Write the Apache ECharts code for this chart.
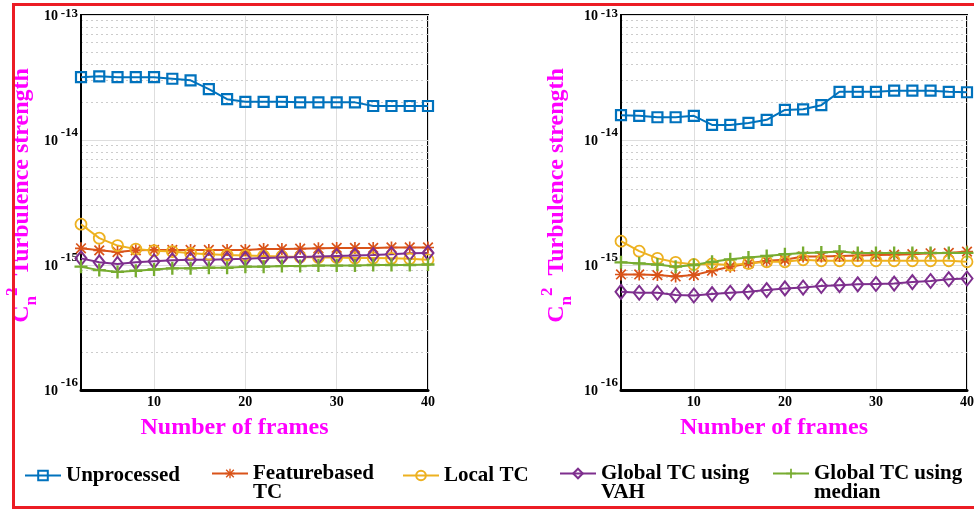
<!DOCTYPE html>
<html><head><meta charset="utf-8">
<script src="https://cdn.jsdelivr.net/npm/echarts@6/dist/echarts.min.js"></script>
<style>html,body{margin:0;padding:0;background:#fff}#c{width:974px;height:512px}</style>
</head><body><div id="c"></div>
<script>
// ---------- data ----------
const frames = [2,4,6,8,10,12,14,16,18,20,22,24,26,28,30,32,34,36,38,40];
const xTickValues = [10,20,30,40];
const seriesNames = ['Unprocessed','Featurebased TC','Local TC','Global TC using VAH','Global TC using median'];
const legendLabels = ['Unprocessed','Featurebased\nTC','Local TC','Global TC using\nVAH','Global TC using\nmedian'];

// left panel
const leftUnprocessed = [3.18e-14,3.23e-14,3.18e-14,3.18e-14,3.18e-14,3.09e-14,3.0e-14,2.55e-14,2.12e-14,2.02e-14,2.02e-14,2.02e-14,2.0e-14,2.0e-14,2.0e-14,2.0e-14,1.87e-14,1.87e-14,1.87e-14,1.87e-14];
const leftFeature = [1.36e-15,1.31e-15,1.27e-15,1.31e-15,1.32e-15,1.32e-15,1.32e-15,1.32e-15,1.32e-15,1.32e-15,1.34e-15,1.34e-15,1.35e-15,1.36e-15,1.37e-15,1.37e-15,1.37e-15,1.38e-15,1.38e-15,1.38e-15];
const leftLocal = [2.12e-15,1.64e-15,1.43e-15,1.34e-15,1.30e-15,1.28e-15,1.24e-15,1.22e-15,1.20e-15,1.19e-15,1.18e-15,1.17e-15,1.16e-15,1.15e-15,1.15e-15,1.14e-15,1.14e-15,1.13e-15,1.12e-15,1.10e-15];
const leftVAH = [1.13e-15,1.05e-15,1.02e-15,1.05e-15,1.07e-15,1.09e-15,1.10e-15,1.10e-15,1.11e-15,1.12e-15,1.14e-15,1.15e-15,1.16e-15,1.17e-15,1.18e-15,1.19e-15,1.20e-15,1.22e-15,1.24e-15,1.25e-15];
const leftMedian = [0.97e-15,0.91e-15,0.88e-15,0.90e-15,0.92e-15,0.94e-15,0.94e-15,0.95e-15,0.95e-15,0.97e-15,0.97e-15,0.98e-15,0.98e-15,0.99e-15,0.99e-15,0.99e-15,1.00e-15,1.00e-15,1.00e-15,1.01e-15];

// right panel
const rightUnprocessed = [1.58e-14,1.56e-14,1.52e-14,1.52e-14,1.56e-14,1.32e-14,1.32e-14,1.37e-14,1.45e-14,1.74e-14,1.76e-14,1.90e-14,2.43e-14,2.43e-14,2.43e-14,2.48e-14,2.48e-14,2.48e-14,2.43e-14,2.41e-14];
const rightFeature = [0.84e-15,0.84e-15,0.83e-15,0.81e-15,0.83e-15,0.90e-15,0.97e-15,1.03e-15,1.08e-15,1.10e-15,1.17e-15,1.17e-15,1.18e-15,1.19e-15,1.20e-15,1.21e-15,1.22e-15,1.24e-15,1.25e-15,1.28e-15];
const rightLocal = [1.55e-15,1.29e-15,1.13e-15,1.05e-15,1.01e-15,1.02e-15,1.00e-15,1.03e-15,1.06e-15,1.06e-15,1.10e-15,1.08e-15,1.08e-15,1.08e-15,1.08e-15,1.08e-15,1.08e-15,1.08e-15,1.08e-15,1.06e-15];
const rightVAH = [0.61e-15,0.60e-15,0.60e-15,0.575e-15,0.57e-15,0.585e-15,0.60e-15,0.61e-15,0.63e-15,0.65e-15,0.66e-15,0.68e-15,0.69e-15,0.70e-15,0.705e-15,0.71e-15,0.73e-15,0.745e-15,0.77e-15,0.78e-15];
const rightMedian = [1.05e-15,1.03e-15,1.01e-15,0.97e-15,1.00e-15,1.06e-15,1.11e-15,1.15e-15,1.18e-15,1.22e-15,1.25e-15,1.26e-15,1.28e-15,1.25e-15,1.25e-15,1.25e-15,1.25e-15,1.25e-15,1.25e-15,1.25e-15];

// y axis decades (exponents) and minor grid multipliers
const yDecadeExps = [-16,-15,-14];
const minorMultipliers = [2,3,4,5,6,7,8,9];

// ---------- styling ----------
const SERIF = '"Liberation Serif","Times New Roman",serif';
const MAGENTA = '#ff00ff';
const colors = ['#0072BD','#D95319','#EDB120','#7E2F8E','#77AC30'];
const ASTERISK = 'path://M4.3 0H5.7V10H4.3Z M0 4.3H10V5.7H0Z M1.5 0.5L9.5 8.5L8.5 9.5L0.5 1.5Z M8.5 0.5L9.5 1.5L1.5 9.5L0.5 8.5Z';
const PLUS = 'path://M4.1 0H5.9V10H4.1Z M0 4.1H10V5.9H0Z';
const symbolDefs = [
  {symbol:'rect', symbolSize:10, itemStyle:{color:'rgba(255,255,255,0)', borderColor:colors[0], borderWidth:2.2}},
  {symbol:ASTERISK, symbolSize:12, itemStyle:{color:colors[1], borderWidth:0}},
  {symbol:'circle', symbolSize:11, itemStyle:{color:'rgba(255,255,255,0)', borderColor:colors[2], borderWidth:1.8}},
  {symbol:'diamond', symbolSize:[11,14], itemStyle:{color:'rgba(255,255,255,0)', borderColor:colors[3], borderWidth:2}},
  {symbol:PLUS, symbolSize:13, itemStyle:{color:colors[4], borderWidth:0}}
];

const minorValues = [];
yDecadeExps.forEach(e => minorMultipliers.forEach(m => minorValues.push(m * Math.pow(10, e))));

const panels = [
  [leftUnprocessed, leftFeature, leftLocal, leftVAH, leftMedian],
  [rightUnprocessed, rightFeature, rightLocal, rightVAH, rightMedian]
];

const grids = [
  {left:81, top:15, width:347, height:375},
  {left:621, top:15, width:346, height:375}
];

const series = [];
panels.forEach((vals, g) => {
  vals.forEach((arr, i) => {
    series.push(Object.assign({
      name: seriesNames[i], type:'line', xAxisIndex:g, yAxisIndex:g * 2, z:3,
      data: frames.map((f, k) => [f, arr[k]]),
      lineStyle:{color:colors[i], width:2},
      showAllSymbol:true
    }, symbolDefs[i]));
  });
});

const xAxis = grids.map((gr, g) => ({
  type:'value', gridIndex:g, min:2, max:40,
  axisLine:{show:true, onZero:false, lineStyle:{color:'#000', width:3}},
  axisTick:{show:false, customValues:xTickValues},
  axisLabel:{customValues:xTickValues, color:'#000', fontFamily:SERIF, fontWeight:'bold', fontSize:14, margin:5},
  splitLine:{show:true, lineStyle:{color:'#dedede', width:1}},
  name:'Number of frames', nameLocation:'middle', nameGap:26,
  nameTextStyle:{color:MAGENTA, fontFamily:SERIF, fontWeight:'bold', fontSize:24, padding:[0,40,0,0]}
}));

const labelRich = {
  e:{fontFamily:SERIF, fontWeight:'bold', fontSize:13, color:'#000', lineHeight:10},
  b:{fontFamily:SERIF, fontWeight:'bold', fontSize:14, color:'#000', lineHeight:14, padding:[0,20,7,0]},
  et:{fontFamily:SERIF, fontWeight:'bold', fontSize:13, color:'#000', lineHeight:10, padding:[12,0,0,0]}
};
const nameRich = {
  c:{fontFamily:SERIF, fontWeight:'bold', fontSize:24, color:MAGENTA, lineHeight:36},
  s:{fontFamily:SERIF, fontWeight:'bold', fontSize:17, color:MAGENTA, lineHeight:16, verticalAlign:'bottom'},
  p:{fontFamily:SERIF, fontWeight:'bold', fontSize:17, color:MAGENTA, lineHeight:16, verticalAlign:'top'},
  t:{fontFamily:SERIF, fontWeight:'bold', fontSize:24, color:MAGENTA, lineHeight:36}
};
const yAxis = [];
grids.forEach((gr, g) => {
  yAxis.push({
    type:'log', logBase:10, gridIndex:g, min:1e-16, max:1e-13, splitNumber:3,
    axisLine:{show:true, lineStyle:{color:'#000', width:2}},
    axisTick:{show:false},
    axisLabel:{margin:3, formatter: v => {
      const ex = Math.round(Math.log10(v));
      return (ex === -13 ? '{et|' : '{e|') + ex + '}\n{b|10}';
    }, rich:labelRich},
    splitLine:{show:true, lineStyle:{color:'#dedede', width:1}},
    name:'{c|C}{s|n}{p|2}{t|  Turbulence strength}', nameLocation:'middle', nameGap: g === 0 ? 32 : 46,
    nameTextStyle:{rich:nameRich, padding:[0,0,0,14]}
  });
  // hidden companion axis carrying the dotted minor log grid (2..9 x 10^n)
  yAxis.push({
    type:'log', logBase:10, gridIndex:g, min:1e-16, max:1e-13, position:'left',
    axisLine:{show:false}, axisLabel:{show:false},
    axisTick:{show:false, customValues:minorValues},
    splitLine:{show:true, lineStyle:{type:[2,3], color:'#cccccc', width:1}}
  });
});

const legendLefts = [24, 211, 402, 559, 772];
const legends = seriesNames.map((n, i) => {
  const multi = legendLabels[i].indexOf('\n') >= 0;
  return {
    data:[n], left:legendLefts[i], top: multi ? 444 : 465, padding:0,
    itemWidth:36, itemHeight:12, selectedMode:false,
    formatter: () => multi ? ' \n' + legendLabels[i] : legendLabels[i],
    textStyle:{fontFamily:SERIF, fontWeight:'bold', fontSize:21, color:'#000', lineHeight:19}
  };
});

const chart = echarts.init(document.getElementById('c'), null, {renderer:'canvas'});
chart.setOption({
  animation:false,
  backgroundColor:'#fff',
  grid: grids.map(g => Object.assign({show:true, borderColor:'#000', borderWidth:2, backgroundColor:'rgba(0,0,0,0)', containLabel:false, outerBoundsMode:'none'}, g)),
  xAxis, yAxis, series,
  legend: legends,
  graphic:[{type:'rect', silent:true, z:100,
    shape:{x:13.5, y:4.5, width:975, height:503},
    style:{fill:'none', stroke:'#ec1c24', lineWidth:3}}]
});
</script>
</body></html>
